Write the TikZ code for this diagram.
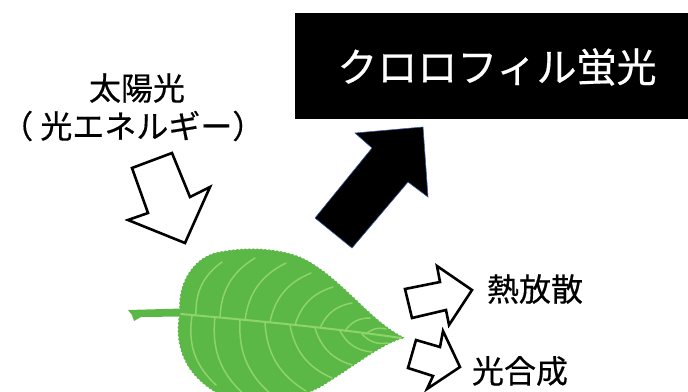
\documentclass[tikz,border=0pt]{standalone}
\usepackage{fontspec}
\newfontfamily\jp[FakeBold=0.5]{Noto Sans CJK JP}
\usetikzlibrary{decorations.pathmorphing}
\definecolor{leafgreen}{RGB}{92,184,70}
\definecolor{veingreen}{RGB}{142,212,106}
\definecolor{arrowedge}{RGB}{60,90,160}
\begin{document}
\begin{tikzpicture}[x=1bp,y=-1bp,
  lbl/.style={font=\jp\fontsize{32bp}{32bp}\selectfont, inner sep=0pt, text=black},
  title/.style={font=\jp\fontsize{40bp}{40bp}\selectfont, inner sep=0pt, text=white},
  hollow/.style={draw=black, fill=white, line width=2.6bp, line join=miter},
  solid/.style={draw=arrowedge, fill=black, line width=0.6bp, line join=miter},
  vein/.style={draw=veingreen, line width=1.5bp, line cap=round}]
\useasboundingbox (0,0) rectangle (688,391);
\clip (0,0) rectangle (688,391);

% banner
\node[fill=black, minimum width=395bp, minimum height=106bp, inner sep=0pt] (banner) at (492.5,66) {};
\node[title] (fluor) at (497,67) {クロロフィル蛍光};

% incoming sunlight label
\node[lbl] (sun) at (137,88) {太陽光};
\node[lbl, anchor=west] (sunsub) at (1,126) {（ 光エネルギー）};

% leaf stem
\fill[leafgreen] (128,310) -- (182,308.5) -- (182,316.5) -- (141,317) -- (134,321) -- (132,315) -- cycle;
% leaf blade
\fill[leafgreen, decorate, decoration={zigzag, segment length=4bp, amplitude=0.5bp}]
  (180,312) .. controls (177,288) and (190,260) .. (215,253)
  .. controls (240,247) and (275,247) .. (300,257)
  .. controls (340,275) and (370,322) .. (405,338)
  .. controls (385,342) and (360,362) .. (330,381)
  .. controls (310,394) and (290,402) .. (260,404)
  .. controls (230,406) and (200,386) .. (188,366)
  .. controls (176,346) and (177,326) .. (180,312) -- cycle;
% midrib
\draw[vein, line width=2bp] (181,314) .. controls (260,321) and (340,329) .. (401,338);
% upper lateral veins
\foreach \sx/\sy/\ex/\ey in {196/315/222/262, 220/317/255/258, 245/320/286/263,
    270/322/311/273, 295/325/333/287, 320/328/352/303, 345/331/370/318, 366/334/386/329}
  \draw[vein] (\sx,\sy) to[bend left=28] (\ex,\ey);
% lower lateral veins
\foreach \sx/\sy/\ex/\ey in {192/316/216/385, 215/317/246/396, 240/320/276/398,
    265/322/306/391, 290/325/332/378, 315/328/352/365, 340/331/372/352, 362/334/388/343}
  \draw[vein] (\sx,\sy) to[bend right=28] (\ex,\ey);

% sunlight arrow into the leaf
\draw[hollow] (132,168) -- (172,153) -- (190,197) -- (210,187) -- (185,243)
  -- (128,220) -- (148,213) -- cycle;

% fluorescence arrow out of the leaf
\draw[solid] (423,127) -- (428,197) -- (408,182) -- (352,248) -- (315,218)
  -- (372,148) -- (355,133) -- cycle;

% heat dissipation arrow
\draw[hollow] (405,289) -- (440,282) -- (437,266) -- (472,290) -- (449,325)
  -- (446,310) -- (412,318) -- cycle;
\node[lbl] (heat) at (535,289) {熱放散};

% photosynthesis arrow
\draw[hollow] (416,340) -- (440,347) -- (443,331) -- (460,367) -- (427,389)
  -- (433,376) -- (408,368) -- cycle;
\node[lbl] (photo) at (520,371) {光合成};
\end{tikzpicture}
\end{document}
